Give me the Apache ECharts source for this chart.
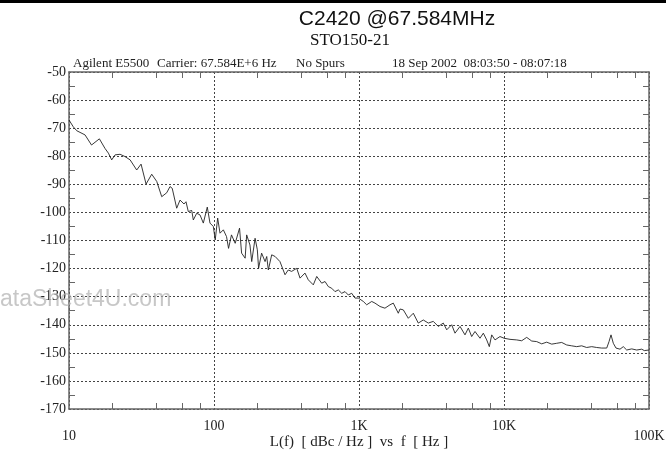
<!DOCTYPE html>
<html><head><meta charset="utf-8">
<script src="https://cdn.jsdelivr.net/npm/echarts@6/dist/echarts.min.js"></script>
<style>html,body{margin:0;padding:0;background:#fff}#c{width:666px;height:457px}</style>
</head><body><div id="c"></div>
<script>
// Offset frequency in Hz
const freqHz = [10, 10.7, 11.3, 12.9, 14.3, 16.2, 17.7, 18.7, 19.7, 20.8, 22.5, 24.3, 26.4, 29.3, 31.4, 34.0, 37.2, 40.3, 43.6, 47.2, 49.7, 51.5, 55.3, 58.3, 62.1, 64.1, 66.5, 70.2, 72.0, 76.0,
  80.1, 84.4, 89.9, 93.8, 98.9, 102, 106, 110, 116, 122, 126, 132, 140, 150, 155, 164, 168, 177, 182, 192, 199, 203, 213, 225, 231, 237, 250, 264, 285, 309, 325, 343, 372, 392, 424, 447, 484, 511, 553, 583, 614, 648, 683, 720, 760, 801, 844, 891, 938, 989, 1071, 1130, 1224, 1289, 1396, 1510, 1636, 1724, 1866,
  1918, 2021, 2188, 2369, 2564, 2776, 3006, 3254, 3523, 3814, 4027, 4357, 4592, 4974, 5383, 5675, 5985, 6310, 6830, 7200, 7600, 7920, 8230, 8670, 9380, 10000, 11000, 12240, 13240, 14340, 15530, 16810, 18200, 19700, 21330, 23090, 25000, 27070, 29290, 31710, 34340, 37170, 40270, 43570, 47160, 51100, 53000, 54700, 56750, 59200, 63100, 66500, 70200, 76000, 82300, 89100, 92800, 100000];
// Phase noise L(f) in dBc/Hz
const noiseDbc = [-67.1, -69.5, -70.9, -72.4, -76, -73.8, -77.2, -78.9, -81.3, -79.5, -79.3, -80.1, -81.3, -84.9, -82.8, -89.9, -86.4, -89, -94.4, -93, -90.8, -91.4, -98.5, -95.6, -97, -96.2, -99.7, -99.3, -102.7, -100.3,
  -100.9, -103.8, -98.1, -103.8, -105, -109.8, -102, -107.4, -106.2, -108.6, -112.8, -108, -111, -105.6, -114.5, -116.3, -108, -111.6, -117.5, -109.2, -113.3, -119.9, -114.5, -117.5, -115.7, -120.5, -115.1, -115.7, -117.5, -122.2, -120.5, -121, -119.9, -123.4, -121.6, -124, -125.8, -122.8, -125.2, -124.6, -126.4, -127, -128.2, -127.6, -128.8, -128.2, -129.4, -128.8, -130.5, -130.5, -131.7, -132.9, -131.7, -132.3, -133.5, -134.1, -132.9, -132.3, -135.9,
  -134.4, -134.7, -137.7, -135.9, -139.4, -138.3, -139.4, -138.8, -140.6, -139.4, -141.8, -140, -143, -140.6, -143.6, -141.2, -144.2, -142.4, -144.8, -143, -145.4, -147.8, -143.6, -145.4, -144.2, -144.8, -145.2, -145.4, -145.7, -144.5, -145.8, -146, -146.8, -146.2, -146.9, -146.6, -146.3, -147.2, -147.5, -147.8, -147.5, -148.1, -147.8, -148.1, -148.3, -148.3, -146, -143.6, -146.6, -148.3, -148.7, -147.8, -149, -148.6, -149, -148.7, -149.2, -149];

const xTickLabels = ['10', '100', '1K', '10K', '100K'];
const xMinorTicks = [20, 40, 60, 80, 200, 400, 600, 800, 2000, 4000, 6000, 8000, 20000, 40000, 60000, 80000];
const titleText = 'C2420 @67.584MHz';
const subtitleText = 'STO150-21';
const headerTexts = ['Agilent E5500', 'Carrier: 67.584E+6 Hz', 'No Spurs', '18 Sep 2002  08:03:50 - 08:07:18'];
const xAxisName = 'L(f)  [ dBc / Hz ]  vs  f  [ Hz ]';
const watermark = 'ataSheet4U.com';

const frame = { color: '#666', width: 1.5 };
const serif = 'Liberation Serif';
const grid = { color: '#444', width: 1, type: [2, 2] };

const chart = echarts.init(document.getElementById('c'), null, { renderer: 'canvas' });
const logAxisBase = { type: 'log', logBase: 10, min: 10, max: 100000 };
const hdrFont = '13px "Liberation Serif"';

chart.setOption({
  animation: false,
  backgroundColor: '#fff',
  grid: { left: 69, right: 17, top: 72, bottom: 48, containLabel: false, outerBoundsMode: 'none' },
  xAxis: [
    Object.assign({}, logAxisBase, {
      position: 'bottom',
      axisLine: { show: true, lineStyle: frame },
      axisTick: { show: true, inside: true, length: 6, customValues: xMinorTicks, lineStyle: { color: '#666', width: 1 } },
      axisLabel: {
        show: true, showMinLabel: true, showMaxLabel: true, hideOverlap: false, margin: 10,
        formatter: function (v) {
          const i = Math.round(Math.log10(v)) - 1;
          const t = xTickLabels[i];
          return (i === 0 || i === xTickLabels.length - 1) ? '{lo|' + t + '}' : '{hi|' + t + '}';
        },
        rich: {
          hi: { fontFamily: serif, fontSize: 14, color: '#222' },
          lo: { fontFamily: serif, fontSize: 14, color: '#222', padding: [10, 0, 0, 0] }
        }
      },
      splitLine: { show: false },
      name: xAxisName, nameLocation: 'middle', nameGap: 26, nameMoveOverlap: false,
      nameTextStyle: { fontFamily: serif, fontSize: 15, color: '#222' }
    }),
    Object.assign({}, logAxisBase, {
      position: 'top',
      axisLine: { show: true, lineStyle: frame },
      axisTick: { show: true, inside: true, length: 6, customValues: xMinorTicks, lineStyle: { color: '#666', width: 1 } },
      axisLabel: { show: false },
      splitLine: { show: false }
    }),
    Object.assign({}, logAxisBase, {
      position: 'bottom',
      axisLine: { show: false },
      axisTick: { show: false },
      axisLabel: { show: false },
      splitLine: { show: true, lineStyle: grid }
    })
  ],
  yAxis: [
    {
      type: 'value', min: -170, max: -50, interval: 10, position: 'left',
      axisLine: { show: true, lineStyle: frame },
      axisTick: { show: false, inside: true },
      minorTick: { show: true, splitNumber: 2, length: 6, lineStyle: { color: '#666', width: 1 } },
      axisLabel: { fontFamily: serif, fontSize: 14, color: '#222', margin: 3 },
      splitLine: { show: true, lineStyle: grid }
    },
    {
      type: 'value', min: -170, max: -50, interval: 10, position: 'right',
      axisLine: { show: true, lineStyle: frame },
      axisTick: { show: false, inside: true },
      minorTick: { show: true, splitNumber: 2, length: 6, lineStyle: { color: '#666', width: 1 } },
      axisLabel: { show: false },
      splitLine: { show: false }
    }
  ],
  series: [{
    type: 'line',
    xAxisIndex: 0, yAxisIndex: 0,
    data: freqHz.map((f, i) => [f, noiseDbc[i]]),
    showSymbol: false,
    lineStyle: { color: '#222', width: 0.9 },
    z: 3
  }],
  graphic: [
    { type: 'rect', shape: { x: 0, y: 0, width: 666, height: 3 }, style: { fill: '#000' } },
    { type: 'text', x: 397, y: 19, style: { text: titleText, font: '21px "Liberation Sans"', fill: '#111', textAlign: 'center', textVerticalAlign: 'middle' } },
    { type: 'text', x: 350, y: 41, style: { text: subtitleText, font: '17px "Liberation Serif"', fill: '#111', textAlign: 'center', textVerticalAlign: 'middle' } },
    { type: 'text', x: 73, y: 64, style: { text: headerTexts[0], font: hdrFont, fill: '#222', textAlign: 'left', textVerticalAlign: 'middle' } },
    { type: 'text', x: 157, y: 64, style: { text: headerTexts[1], font: hdrFont, fill: '#222', textAlign: 'left', textVerticalAlign: 'middle' } },
    { type: 'text', x: 296, y: 64, style: { text: headerTexts[2], font: hdrFont, fill: '#222', textAlign: 'left', textVerticalAlign: 'middle' } },
    { type: 'text', x: 392, y: 64, style: { text: headerTexts[3], font: hdrFont, fill: '#222', textAlign: 'left', textVerticalAlign: 'middle' } },
    { type: 'text', x: 0, y: 300, z: 100, style: { text: watermark, font: '23px "Liberation Sans"', fill: 'rgba(175,175,175,0.7)', textAlign: 'left', textVerticalAlign: 'middle' } }
  ]
});
</script></body></html>
